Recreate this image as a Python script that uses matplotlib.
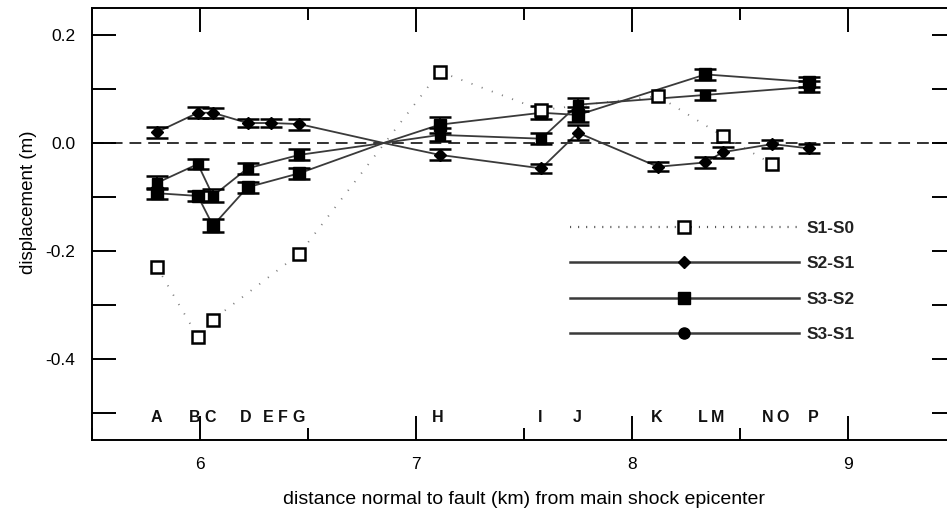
import matplotlib
matplotlib.use("Agg")
import matplotlib.pyplot as plt
import numpy as np
from matplotlib import font_manager
from matplotlib.ticker import MultipleLocator, FixedLocator
from matplotlib.lines import Line2D

names = {f.name for f in font_manager.fontManager.ttflist}
FONT = "Liberation Sans Narrow" if "Liberation Sans Narrow" in names else "Liberation Sans"
plt.rcParams['font.family'] = [FONT, 'DejaVu Sans']
plt.rcParams['lines.scale_dashes'] = False

# ---- data ----
station_labels = ["A", "B", "C", "D", "E", "F", "G", "H", "I", "J", "K", "L", "M", "N", "O", "P"]
station_x = [5.80, 5.977, 6.046, 6.213, 6.315, 6.384, 6.454, 7.102, 7.574, 7.745,
             8.116, 8.329, 8.398, 8.630, 8.699, 8.838]

s10_x = [5.80, 5.99, 6.06, 6.46, 7.11, 7.58, 8.12, 8.42, 8.65]
s10_y = [-0.229, -0.359, -0.327, -0.205, 0.132, 0.061, 0.087, 0.013, -0.039]

s21_x = [5.80, 5.99, 6.06, 6.22, 6.33, 6.46, 6.85, 7.11, 7.58, 7.75, 8.12, 8.34, 8.42, 8.65, 8.82]
s21_y = [0.020, 0.056, 0.056, 0.037, 0.037, 0.035, 0.0, -0.022, -0.047, 0.019, -0.044, -0.036, -0.017, -0.002, -0.010]
s21_e = [0.010, 0.010, 0.009, 0.008, 0.008, 0.010, 0.0, 0.010, 0.009, 0.014, 0.008, 0.010, 0.010, 0.008, 0.009]

s32_x = [5.80, 5.99, 6.06, 6.22, 6.46, 6.85, 7.11, 7.58, 7.75, 8.34, 8.82]
s32_y = [-0.093, -0.098, -0.153, -0.082, -0.056, 0.0, 0.034, 0.056, 0.052, 0.127, 0.113]
s32_e = [0.010, 0.010, 0.012, 0.010, 0.010, 0.0, 0.015, 0.012, 0.014, 0.010, 0.010]

s31_x = [5.80, 5.99, 6.06, 6.22, 6.46, 6.85, 7.11, 7.58, 7.75, 8.34, 8.82]
s31_y = [-0.074, -0.039, -0.098, -0.047, -0.022, 0.0, 0.015, 0.008, 0.071, 0.089, 0.104]
s31_e = [0.012, 0.010, 0.012, 0.010, 0.010, 0.0, 0.012, 0.010, 0.012, 0.010, 0.010]

series_names = ["S1-S0", "S2-S1", "S3-S2", "S3-S1"]

# ---- figure ----
W, H = 947, 520
fig = plt.figure(figsize=(W / 100, H / 100), dpi=100)
ax = fig.add_axes([92 / W, 80 / H, 864 / W, 432 / H])
ax.set_xlim(5.5, 9.5)
ax.set_ylim(-0.55, 0.25)

LINEC = "#3a3a3a"

ax.axhline(0, color="#222222", lw=1.3, dashes=(8.5, 5), zorder=1)

# S1-S0 dotted with open squares
ax.plot(s10_x, s10_y, color="#808080", lw=1.3, linestyle=(0, (0.8, 7)), zorder=2)
ax.plot(s10_x, s10_y, ls="none", marker="s", ms=8, mfc="white", mec="black", mew=1.8, zorder=5)


def draw_series(x, y, e, marker, ms):
    x = np.asarray(x); y = np.asarray(y); e = np.asarray(e)
    ax.plot(x, y, color=LINEC, lw=1.3, zorder=3)
    m = e > 0
    ax.errorbar(x[m], y[m], yerr=e[m], fmt=marker, ms=ms, color="black", mfc="black",
                mec="black", ecolor="black", elinewidth=1.2, capsize=8, capthick=1.8, zorder=4)


draw_series(s21_x, s21_y, s21_e, "D", 6)
draw_series(s32_x, s32_y, s32_e, "s", 9)
draw_series(s31_x, s31_y, s31_e, "s", 7)

# station letters
for lab, sx in zip(station_labels, station_x):
    ax.text(sx, -0.509, lab, ha="center", va="center", fontsize=11.5, fontweight="bold", color="#111111")

# ticks
ax.xaxis.set_major_locator(MultipleLocator(1))
ax.xaxis.set_minor_locator(MultipleLocator(0.5))
ax.yaxis.set_major_locator(FixedLocator([-0.4, -0.2, 0.0, 0.2]))
ax.yaxis.set_minor_locator(FixedLocator([-0.5, -0.3, -0.1, 0.1]))
ax.xaxis.set_major_formatter(plt.FuncFormatter(lambda v, p: f"{v:.0f}"))
ax.yaxis.set_major_formatter(plt.FuncFormatter(lambda v, p: f"{v:.1f}"))
ax.tick_params(axis="both", which="both", direction="in", top=True, right=True, width=1.4, colors="black")
ax.tick_params(axis="both", which="major", length=17, labelsize=12.5, pad=12)
ax.tick_params(axis="x", which="minor", length=8.5)
ax.tick_params(axis="y", which="minor", length=17)
for s in ax.spines.values():
    s.set_linewidth(1.4)

ax.set_xlabel("distance normal to fault (km) from main shock epicenter", fontsize=14, labelpad=14)
ax.set_ylabel("displacement (m)", fontsize=13.5)
ax.yaxis.set_label_coords(-0.064, 0.55)

handles = [
    Line2D([], [], color="#555555", lw=1.6, linestyle=(0, (0.8, 5)), marker="s", ms=8,
           mfc="white", mec="black", mew=1.8),
    Line2D([], [], color=LINEC, lw=1.8, marker="D", ms=6, mfc="black", mec="black"),
    Line2D([], [], color=LINEC, lw=1.8, marker="s", ms=9, mfc="black", mec="black"),
    Line2D([], [], color=LINEC, lw=1.8, marker="o", ms=8, mfc="black", mec="black"),
]
leg = ax.legend(handles, series_names, loc="center left", bbox_to_anchor=(0.553, 0.367),
                frameon=False, fontsize=12.5, handlelength=13.2, handletextpad=0.45,
                labelspacing=1.15, borderpad=0, borderaxespad=0, numpoints=1)
for t in leg.get_texts():
    t.set_fontweight("bold")
    t.set_color("#222222")

fig.savefig("out.png", dpi=100)
